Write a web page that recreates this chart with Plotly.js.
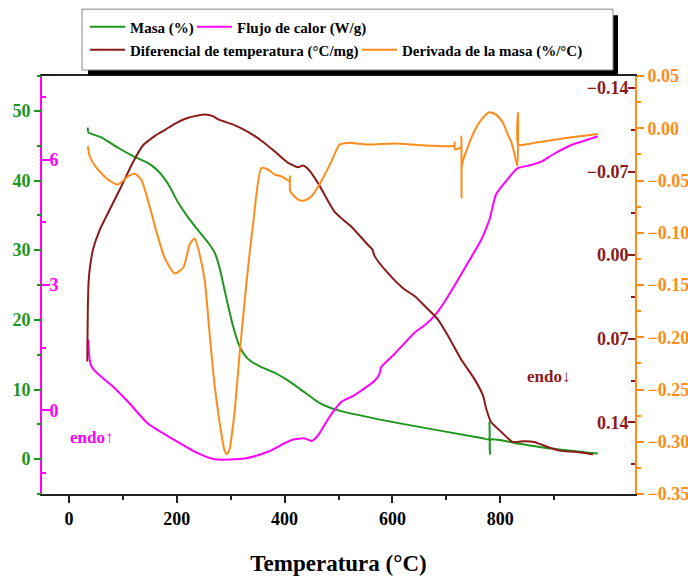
<!DOCTYPE html>
<html>
<head>
<meta charset="utf-8">
<script src="https://cdn.plot.ly/plotly-3.0.1.min.js"></script>
<style>html,body{margin:0;padding:0;background:#fff;}#chart{width:688px;height:576px;}</style>
</head>
<body>
<div id="chart"></div>
<script>
// ---- Data ----
const masaT = [35, 36, 60, 91, 119, 147, 165, 184, 202, 221, 240, 258, 270, 280, 288, 295, 304, 317, 332, 357, 382, 406, 437, 462, 487, 505, 616, 765, 779, 780, 781, 782, 832, 894, 981];
const masa  = [47.6, 46.9, 46.2, 44.7, 43.5, 42.5, 41.4, 39.5, 36.9, 34.7, 32.8, 31.1, 29.7, 27.3, 24.5, 22.1, 19.2, 16.1, 14.4, 13.2, 12.4, 11.3, 9.6, 8.2, 7.3, 6.9, 5.1, 3.05, 2.85, 5.3, 0.7, 2.8, 2.25, 1.53, 0.8];

const flujoT = [36, 38, 42, 54, 79, 110, 147, 196, 240, 270, 326, 369, 413, 437, 450, 462, 481, 492, 505, 529, 567, 576, 579, 604, 641, 662, 678, 696, 715, 740, 765, 780, 792, 808, 832, 857, 876, 900, 932, 956, 981];
const flujo  = [1.7, 1.25, 1.05, 0.87, 0.60, 0.20, -0.32, -0.71, -1.03, -1.17, -1.15, -0.99, -0.71, -0.67, -0.73, -0.60, -0.20, 0.0, 0.2, 0.36, 0.71, 0.87, 1.03, 1.35, 1.86, 2.06, 2.26, 2.58, 2.98, 3.53, 4.09, 4.56, 5.16, 5.44, 5.79, 5.87, 5.95, 6.14, 6.35, 6.45, 6.56];

const dtaT = [34, 35, 36.5, 38.5, 44.7, 57, 75.5, 97, 119, 137.5, 159, 177.5, 196, 221, 252, 267, 277, 307, 332, 357, 382, 406, 425, 434, 444, 462, 481, 492, 505, 523, 554, 563, 567, 591, 622, 641, 666, 684, 703, 727, 752, 768, 774, 783, 802, 823, 845, 863, 888, 913, 938, 972];
const dta  = [0.089, 0.045, 0.022, 0.012, -0.005, -0.021, -0.038, -0.0575, -0.078, -0.092, -0.0997, -0.1047, -0.110, -0.115, -0.1178, -0.1164, -0.1136, -0.1089, -0.1033, -0.0958, -0.0867, -0.0775, -0.0736, -0.075, -0.0719, -0.0603, -0.045, -0.0367, -0.031, -0.0242, -0.0089, -0.0047, 0.0008, 0.0147, 0.0286, 0.0342, 0.0453, 0.0536, 0.0675, 0.0869, 0.1036, 0.1175, 0.1286, 0.1397, 0.148, 0.1564, 0.1558, 0.1564, 0.1606, 0.1639, 0.1647, 0.1669];

const dtgT = [35, 38.5, 51, 72.5, 91, 110, 122, 134, 147, 162, 177.5, 196, 212, 224, 233, 242.5, 252, 261, 270, 280, 288, 292.6, 298, 302.6, 307.5, 317, 326, 329, 341.5, 357, 369, 382, 394, 409.5, 410, 410.5, 425, 437, 450, 468, 487, 502, 517, 554, 604, 653, 709, 715, 715.5, 716, 727, 728, 728.2, 729, 737, 752, 765, 780, 792, 805, 814, 820, 826, 832, 833, 833.5, 863, 925, 981];
const dtg  = [-0.0172, -0.0268, -0.0379, -0.049, -0.0538, -0.0459, -0.0436, -0.049, -0.0698, -0.0985, -0.1239, -0.1389, -0.1335, -0.1112, -0.1054, -0.1207, -0.1463, -0.1972, -0.245, -0.2833, -0.3072, -0.312, -0.3072, -0.2912, -0.2705, -0.2132, -0.1654, -0.1494, -0.092, -0.0379, -0.0395, -0.0443, -0.0459, -0.0507, -0.0459, -0.0602, -0.0682, -0.0691, -0.065, -0.0507, -0.0316, -0.0156, -0.014, -0.0156, -0.0146, -0.0163, -0.0172, -0.0163, -0.0135, -0.020, -0.0182, -0.0076, -0.0665, -0.0347, -0.022, -0.0029, 0.0083, 0.0153, 0.0131, 0.0052, -0.006, -0.0124, -0.0235, -0.0363, 0.0147, -0.0156, -0.014, -0.0092, -0.0054];

const seriesNames = ["Masa (%)", "Flujo de calor (W/g)", "Diferencial de temperatura (°C/mg)", "Derivada de la masa (%/°C)"];
const xTitle = "Temperatura (°C)";

// ---- Styles ----
const GREEN = "#1e961e", MAG = "#ff00ff", DRED = "#8b1a1a", ORANGE = "#ff8c1a";
const FAM = "Liberation Serif, Times New Roman, serif";
const tf = (c, s) => ({family: FAM, size: s || 18, color: c, weight: "bold"});
const ln = c => ({color: c, width: 2, shape: "spline", smoothing: 0.6});

const traces = [
  {x: masaT, y: masa, name: seriesNames[0], type: "scatter", mode: "lines", line: ln(GREEN), xaxis: "x", yaxis: "y", legend: "legend"},
  {x: flujoT, y: flujo, name: seriesNames[1], type: "scatter", mode: "lines", line: ln(MAG), xaxis: "x", yaxis: "y2", legend: "legend2"},
  {x: dtaT, y: dta, name: seriesNames[2], type: "scatter", mode: "lines", line: ln(DRED), xaxis: "x", yaxis: "y3", legend: "legend3"},
  {x: dtgT, y: dtg, name: seriesNames[3], type: "scatter", mode: "lines", line: ln(ORANGE), xaxis: "x", yaxis: "y4", legend: "legend4"}
];

const px2x = p => (p - 42) / 593, px2y = p => (494 - p) / 419;
const lg = (xp, yp) => ({
  orientation: "h", x: px2x(xp), xanchor: "left", y: px2y(yp), yanchor: "middle",
  bgcolor: "rgba(0,0,0,0)", borderwidth: 0, itemwidth: 35,
  font: {family: FAM, size: 15, color: "#000", weight: "bold"}
});

const layout = {
  width: 688, height: 576,
  margin: {l: 42, r: 53, t: 75, b: 82},
  paper_bgcolor: "#fff", plot_bgcolor: "#fff",
  showlegend: true,
  xaxis: {
    range: [-50, 1050], tick0: 0, dtick: 200, ticks: "outside", ticklen: 7, tickwidth: 2, tickcolor: "#222",
    minor: {dtick: 100, tick0: 0, ticks: "outside", ticklen: 4, tickwidth: 2, tickcolor: "#222"},
    showline: true, mirror: true, linecolor: "#222", linewidth: 2, showgrid: false, zeroline: false,
    tickfont: tf("#000", 18),
    title: {text: xTitle, font: tf("#000", 23), standoff: 28}
  },
  yaxis: {
    range: [-5, 55], tick0: 0, dtick: 10, ticks: "outside", ticklen: 7, tickwidth: 2, tickcolor: GREEN,
    minor: {dtick: 5, tick0: 0, ticks: "outside", ticklen: 4, tickwidth: 2, tickcolor: GREEN},
    showline: false, showgrid: false, zeroline: false, tickfont: tf(GREEN, 18)
  },
  yaxis2: {
    overlaying: "y", side: "left", anchor: "x",
    range: [-2, 8], tick0: 0, dtick: 3, ticks: "inside", ticklen: 8, tickwidth: 2, tickcolor: MAG,
    ticklabelposition: "inside",
    minor: {dtick: 1.5, tick0: 0, ticks: "inside", ticklen: 4, tickwidth: 2, tickcolor: MAG},
    showline: true, linecolor: MAG, linewidth: 2, showgrid: false, zeroline: false, tickfont: tf(MAG, 18)
  },
  yaxis3: {
    overlaying: "y", side: "right", anchor: "x",
    range: [0.2, -0.15], tick0: 0, dtick: 0.07, tickformat: ".2f", ticks: "inside", ticklen: 7, tickwidth: 2, tickcolor: DRED,
    ticklabelposition: "inside",
    minor: {dtick: 0.035, tick0: 0, ticks: "inside", ticklen: 4, tickwidth: 2, tickcolor: DRED},
    showline: false, showgrid: false, zeroline: false, tickfont: tf(DRED, 18)
  },
  yaxis4: {
    overlaying: "y", side: "right", anchor: "x",
    range: [-0.35, 0.05], tick0: 0, dtick: 0.05, tickformat: ".2f", ticks: "outside", ticklen: 7, tickwidth: 2, tickcolor: ORANGE,
    minor: {dtick: 0.025, tick0: 0, ticks: "outside", ticklen: 4, tickwidth: 2, tickcolor: ORANGE},
    showline: true, linecolor: ORANGE, linewidth: 2, showgrid: false, zeroline: false, tickfont: tf(ORANGE, 18)
  },
  legend: lg(85, 27),
  legend2: lg(192, 27),
  legend3: lg(85, 50),
  legend4: lg(357, 50),
  shapes: [
    {type: "rect", xref: "paper", yref: "paper", x0: px2x(88), x1: px2x(618), y0: px2y(74), y1: px2y(14), fillcolor: "#000", line: {width: 0}},
    {type: "rect", xref: "paper", yref: "paper", x0: px2x(82), x1: px2x(613), y0: px2y(69), y1: px2y(8), fillcolor: "#fff", line: {color: "#888", width: 1}}
  ],
  annotations: [
    {xref: "paper", yref: "paper", x: px2x(91), y: px2y(437), text: "endo↑", showarrow: false, font: tf(MAG, 17), xanchor: "center", yanchor: "middle"},
    {xref: "paper", yref: "paper", x: px2x(548), y: px2y(376), text: "endo↓", showarrow: false, font: tf(DRED, 17), xanchor: "center", yanchor: "middle"}
  ]
};

Plotly.newPlot("chart", traces, layout, {displayModeBar: false, responsive: false});
</script>
</body>
</html>
